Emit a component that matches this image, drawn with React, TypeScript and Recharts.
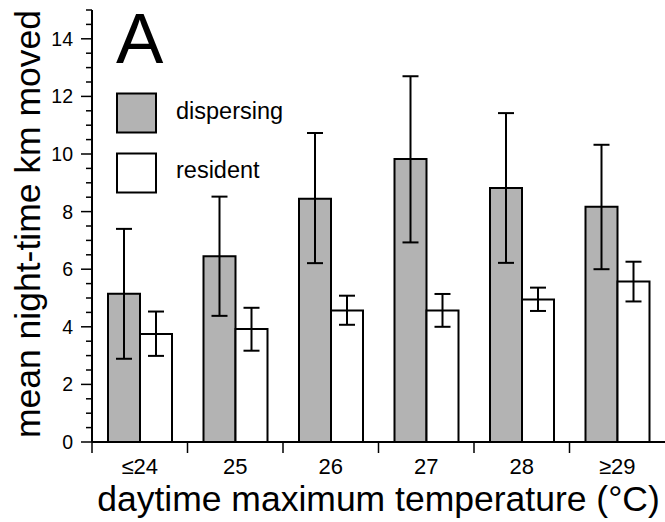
import React from 'react';
import { BarChart, Bar, XAxis, YAxis, ErrorBar, Legend } from 'recharts';

const FONT = '"Liberation Sans", Arial, Helvetica, sans-serif';

const categories = ['≤24', '25', '26', '27', '28', '≥29'];
const dispersingMean = [5.15, 6.45, 8.45, 9.83, 8.82, 8.17];
const dispersingLow = [2.89, 4.38, 6.21, 6.93, 6.22, 6.0];
const dispersingHigh = [7.4, 8.52, 10.73, 12.7, 11.42, 10.32];
const residentMean = [3.75, 3.92, 4.57, 4.57, 4.95, 5.57];
const residentLow = [2.99, 3.17, 4.07, 4.0, 4.55, 4.88];
const residentHigh = [4.53, 4.66, 5.08, 5.14, 5.36, 6.26];

const seriesNames = ['dispersing', 'resident'];
const seriesFills = ['#b3b3b3', '#ffffff'];

const yTicks = [0, 0.5, 1, 1.5, 2, 2.5, 3, 3.5, 4, 4.5, 5, 5.5, 6, 6.5, 7, 7.5, 8, 8.5, 9, 9.5, 10, 10.5, 11, 11.5, 12, 12.5, 13, 13.5, 14, 14.5, 15];
const yLabeledTicks = [0, 2, 4, 6, 8, 10, 12, 14];

const yTitle = 'mean night-time km moved';
const xTitle = 'daytime maximum temperature (°C)';
const panelLetter = 'A';

const data = categories.map((cat, i) => ({
  cat,
  dispersing: dispersingMean[i],
  dErr: [dispersingMean[i] - dispersingLow[i], dispersingHigh[i] - dispersingMean[i]],
  resident: residentMean[i],
  rErr: [residentMean[i] - residentLow[i], residentHigh[i] - residentMean[i]],
}));

const XTick = (props: any) => {
  const { x, y, payload, width, visibleTicksCount } = props;
  const half =
    payload && typeof payload.offset === 'number' && payload.offset > 0
      ? payload.offset
      : width / (visibleTicksCount || 6) / 2;
  return (
    <g>
      <line x1={x - half} x2={x - half} y1={y} y2={y + 11} stroke="#000" strokeWidth={1.5} />
      <text x={x} y={y + 32} textAnchor="middle" fontSize={22} fontFamily={FONT} fill="#000">
        {payload.value}
      </text>
    </g>
  );
};

const YTick = (props: any) => {
  const { x, y, payload } = props;
  const v = payload.value;
  const major = yLabeledTicks.includes(v);
  return (
    <g>
      <line x1={x - (major ? 11 : 6)} x2={x} y1={y} y2={y} stroke="#000" strokeWidth={1.5} />
      {major && (
        <text x={x - 19} y={y} dy="0.36em" textAnchor="end" fontSize={19.5} fontFamily={FONT} fill="#000">
          {v}
        </text>
      )}
    </g>
  );
};

const YLabel = () => (
  <text
    x={40}
    y={224}
    transform="rotate(-90, 40, 224)"
    textAnchor="middle"
    fontSize={35.5}
    fontFamily={FONT}
    fill="#000"
  >
    {yTitle}
  </text>
);

const XLabel = () => (
  <text x={378.5} y={511} textAnchor="middle" fontSize={35.5} fontFamily={FONT} fill="#000">
    {xTitle}
  </text>
);

const LegendContent = () => (
  <svg width={665} height={522} style={{ position: 'absolute', left: 0, top: 0, overflow: 'visible' }}>
    <text x={116} y={63} fontSize={71} fontFamily={FONT} fill="#000">
      {panelLetter}
    </text>
    {seriesNames.map((name, i) => (
      <g key={name}>
        <rect x={117} y={93.5 + i * 60} width={39} height={39} fill={seriesFills[i]} stroke="#000" strokeWidth={2} />
        <text x={176} y={119 + i * 59} fontSize={23.5} fontFamily={FONT} fill="#000">
          {name}
        </text>
      </g>
    ))}
  </svg>
);

export default function App() {
  return (
    <div style={{ position: 'absolute', left: 0, top: 0, width: 665, height: 522, background: '#fff' }}>
      <BarChart
        width={665}
        height={522}
        data={data}
        margin={{ top: 10, right: 0, bottom: 0, left: 0 }}
        barSize={32}
        barGap={0}
      >
        <XAxis
          dataKey="cat"
          height={80}
          tickSize={0}
          tickMargin={0}
          tickLine={false}
          axisLine={{ stroke: '#000', strokeWidth: 2 }}
          tick={<XTick />}
          interval={0}
          label={{ content: () => <XLabel /> }}
        />
        <YAxis
          width={92}
          domain={[0, 15]}
          ticks={yTicks}
          interval={0}
          tickSize={0}
          tickMargin={0}
          tickLine={false}
          axisLine={{ stroke: '#000', strokeWidth: 2 }}
          tick={<YTick />}
          allowDataOverflow
          label={{ content: () => <YLabel /> }}
        />
        <Legend
          layout="vertical"
          align="center"
          verticalAlign="middle"
          wrapperStyle={{ position: 'absolute', left: 0, top: 0, width: 665, height: 522, pointerEvents: 'none' }}
          content={() => <LegendContent />}
        />
        <Bar dataKey="dispersing" fill={seriesFills[0]} stroke="#000" strokeWidth={2} isAnimationActive={false}>
          <ErrorBar dataKey="dErr" width={8} stroke="#000" strokeWidth={2} direction="y" isAnimationActive={false} />
        </Bar>
        <Bar dataKey="resident" fill={seriesFills[1]} stroke="#000" strokeWidth={2} isAnimationActive={false}>
          <ErrorBar dataKey="rErr" width={8} stroke="#000" strokeWidth={2} direction="y" isAnimationActive={false} />
        </Bar>
      </BarChart>
    </div>
  );
}
